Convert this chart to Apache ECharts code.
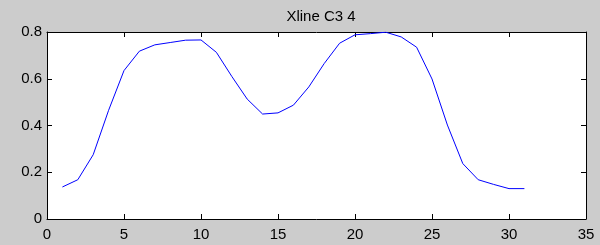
<!DOCTYPE html>
<html>
<head>
<meta charset="utf-8">
<script src="https://cdn.jsdelivr.net/npm/echarts@6/dist/echarts.min.js"></script>
<style>
  html, body { margin: 0; padding: 0; background: #cccccc; }
  #main { width: 600px; height: 245px; }
</style>
</head>
<body>
<div id="main"></div>
<script>
// data
var xValues = [1, 2, 3, 4, 5, 6, 7, 8, 9, 10, 11, 12, 13, 14, 15, 16,
  17, 18, 19, 20, 21, 22, 23, 24, 25, 26, 27, 28, 29, 30, 31];
var yValues = [0.137, 0.168, 0.275, 0.465, 0.635, 0.718, 0.745, 0.755, 0.765, 0.766,
  0.713, 0.61, 0.513, 0.449, 0.454, 0.487, 0.565, 0.665, 0.752, 0.788,
  0.793, 0.799, 0.779, 0.735, 0.599, 0.402, 0.237, 0.168, 0.148, 0.130, 0.130];
var titleText = "Xline C3 4";

var points = xValues.map(function (x, i) { return [x, yValues[i]]; });

var chart = echarts.init(document.getElementById("main"));

var font = "Liberation Sans, Arial, Helvetica, sans-serif";
var line = { show: true, onZero: false, lineStyle: { color: "#000", width: 1 } };
var tick = { show: true, inside: true, length: 5, lineStyle: { color: "#000", width: 1 } };

chart.setOption({
  backgroundColor: "#cccccc",
  animation: false,
  title: {
    text: titleText,
    left: 316,
    top: 4,
    textAlign: "center",
    textStyle: { fontFamily: font, fontSize: 15, fontWeight: "normal", color: "#000" }
  },
  grid: {
    left: 47, right: 14, top: 32, bottom: 26,
    show: true, backgroundColor: "#ffffff", borderWidth: 0
  },
  xAxis: [
    {
      type: "value", min: 0, max: 35, interval: 5, position: "bottom",
      axisLine: line, axisTick: tick, splitLine: { show: false },
      axisLabel: { fontFamily: font, fontSize: 15, color: "#000", margin: 8 }
    },
    {
      type: "value", min: 0, max: 35, interval: 5, position: "top",
      axisLine: line, axisTick: tick, splitLine: { show: false },
      axisLabel: { show: false }
    }
  ],
  yAxis: [
    {
      type: "value", min: 0, max: 0.8, interval: 0.2, position: "left",
      axisLine: line, axisTick: tick, splitLine: { show: false },
      axisLabel: { fontFamily: font, fontSize: 15, color: "#000", margin: 5 }
    },
    {
      type: "value", min: 0, max: 0.8, interval: 0.2, position: "right",
      axisLine: line, axisTick: tick, splitLine: { show: false },
      axisLabel: { show: false }
    }
  ],
  series: [
    {
      type: "line",
      data: points,
      showSymbol: false,
      lineStyle: { color: "#0000ff", width: 1 },
      itemStyle: { color: "#0000ff" }
    }
  ]
});
</script>
</body>
</html>
